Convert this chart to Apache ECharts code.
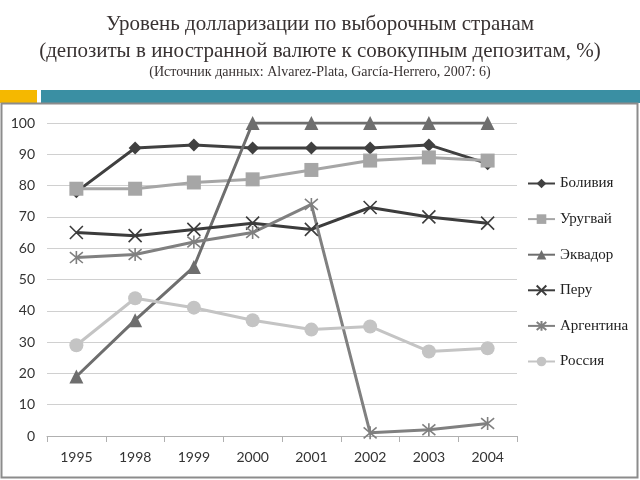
<!DOCTYPE html>
<html>
<head>
<meta charset="utf-8">
<script src="https://cdn.jsdelivr.net/npm/echarts@6/dist/echarts.min.js"></script>
<style>
  html, body { margin: 0; padding: 0; background: #fff; }
  #chart { width: 640px; height: 480px; }
</style>
</head>
<body>
<div id="chart"></div>
<script>
// годы
var years = ["1995", "1998", "1999", "2000", "2001", "2002", "2003", "2004"];
// значения по странам, %
var bolivia   = [78, 92, 93, 92, 92, 92, 93, 87];
var uruguay   = [79, 79, 81, 82, 85, 88, 89, 88];
var ecuador   = [19, 37, 54, 100, 100, 100, 100, 100];
var peru      = [65, 64, 66, 68, 66, 73, 70, 68];
var argentina = [57, 58, 62, 65, 74, 1, 2, 4];
var russia    = [29, 44, 41, 37, 34, 35, 27, 28];
var yTicks = [0, 10, 20, 30, 40, 50, 60, 70, 80, 90, 100];

var crossPath = "path://M0,0L10,10M10,0L0,10";
var starPath = "path://M0,0L10,10M10,0L0,10M5,-1L5,11";

function makeSeries(name, data, color, symbol, size, stroke) {
  var s = {
    name: name,
    type: "line",
    data: data,
    symbol: symbol,
    symbolSize: size,
    showAllSymbol: true,
    lineStyle: { color: color, width: 3 },
    itemStyle: { color: color },
    emphasis: { disabled: true }
  };
  if (stroke) {
    s.itemStyle = { color: "rgba(0,0,0,0)", borderColor: color, borderWidth: 1.6 };
  }
  return s;
}

var titleFont = { fontFamily: "Liberation Serif", fontWeight: "normal", color: "#383232" };

var myChart = echarts.init(document.getElementById("chart"));
var option = {
  backgroundColor: "#fff",
  animation: false,
  title: [
    {
      text: "Уровень долларизации по выборочным странам",
      left: "center", top: 14, padding: 0,
      textStyle: Object.assign({ fontSize: 21 }, titleFont)
    },
    {
      text: "(депозиты в иностранной валюте к совокупным депозитам, %)",
      left: "center", top: 41, padding: 0,
      textStyle: Object.assign({ fontSize: 21 }, titleFont)
    },
    {
      text: "(Источник данных: Alvarez-Plata, García-Herrero, 2007: 6)",
      left: "center", top: 65, padding: 0,
      textStyle: Object.assign({ fontSize: 14 }, titleFont)
    }
  ],
  graphic: [
    { type: "rect", shape: { x: 0, y: 90, width: 37, height: 13 }, style: { fill: "#f5b800" } },
    { type: "rect", shape: { x: 41, y: 90, width: 599, height: 13 }, style: { fill: "#3a8fa3" } },
    { type: "rect", shape: { x: 1.5, y: 103.5, width: 636, height: 374 }, style: { fill: "none", stroke: "#8c8c8c", lineWidth: 2 } }
  ],
  legend: {
    orient: "vertical",
    left: 527,
    top: 176,
    padding: 0,
    itemWidth: 27,
    itemHeight: 12,
    itemGap: 20.6,
    textStyle: { fontFamily: "Liberation Serif", fontSize: 15, color: "#222" },
    data: ["Боливия", "Уругвай", "Эквадор", "Перу", "Аргентина", "Россия"]
  },
  grid: { left: 47, right: 123, top: 123, bottom: 44 },
  xAxis: {
    type: "category",
    data: years,
    boundaryGap: true,
    axisLine: { lineStyle: { color: "#b0b0b0" } },
    axisTick: { show: true, length: 6, lineStyle: { color: "#b0b0b0" } },
    axisLabel: { fontFamily: "Lato", fontSize: 14, color: "#333", margin: 14 }
  },
  yAxis: {
    type: "value",
    min: yTicks[0],
    max: yTicks[yTicks.length - 1],
    interval: 10,
    axisLine: { show: false },
    axisTick: { show: false },
    axisLabel: { fontFamily: "Lato", fontSize: 14, color: "#333", margin: 12 },
    splitLine: { lineStyle: { color: "#d0d0d0" } }
  },
  series: [
    makeSeries("Боливия", bolivia, "#404040", "diamond", 13),
    makeSeries("Уругвай", uruguay, "#a6a6a6", "rect", 14),
    makeSeries("Эквадор", ecuador, "#6e6e6e", "triangle", 14),
    makeSeries("Перу", peru, "#3c3c3c", crossPath, 13, true),
    makeSeries("Аргентина", argentina, "#808080", starPath, 13, true),
    makeSeries("Россия", russia, "#c4c4c4", "circle", 14)
  ]
};
myChart.setOption(option);
</script>
</body>
</html>
